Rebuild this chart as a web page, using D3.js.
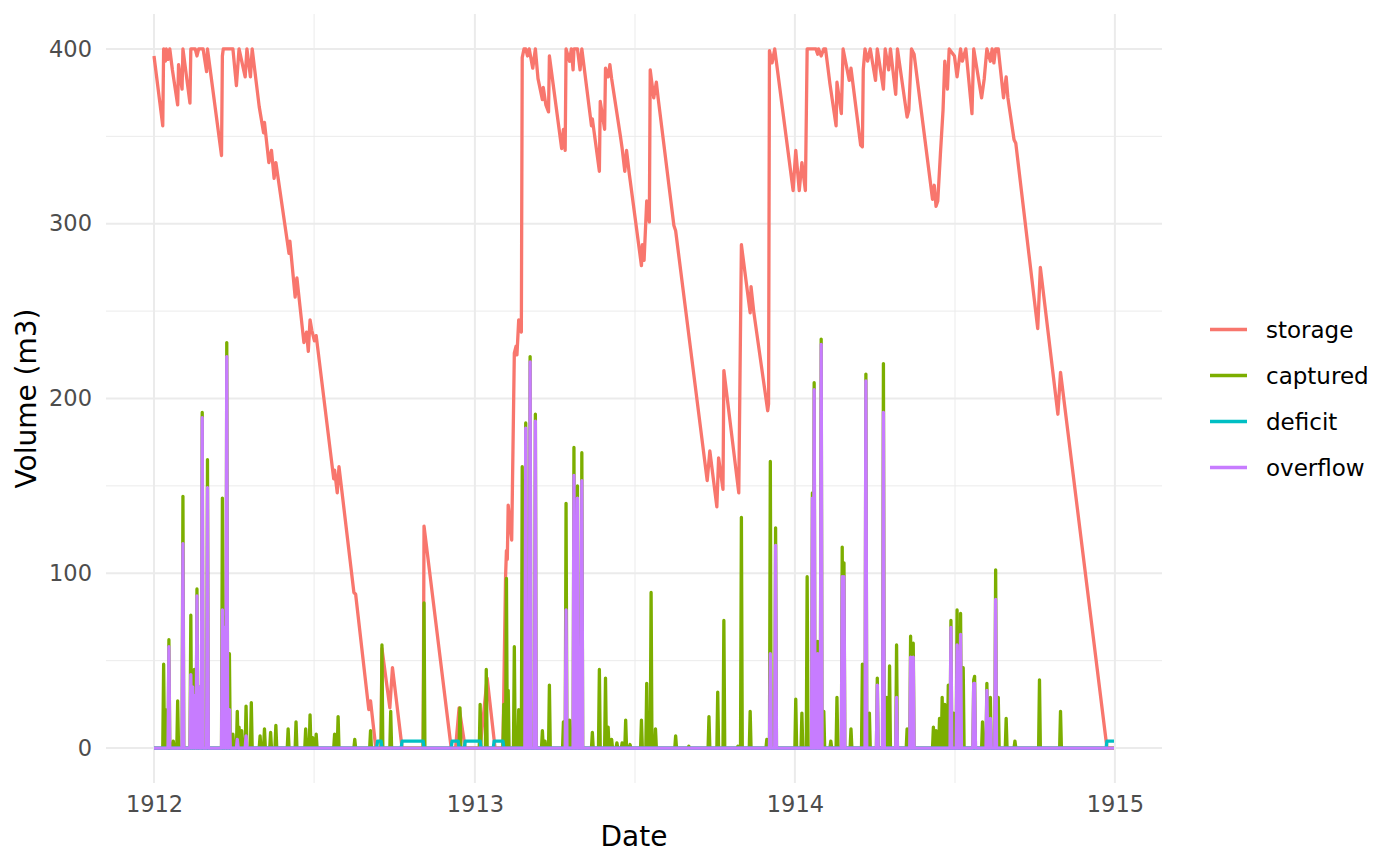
<!DOCTYPE html>
<html>
<head>
<meta charset="utf-8">
<script src="https://cdn.jsdelivr.net/npm/d3@7"></script>
<style>
  body { margin: 0; background: #fff; }
  svg { display: block; font-family: "DejaVu Sans", sans-serif; }
</style>
</head>
<body>
<svg id="chart" width="1400" height="866"></svg>
<script>
// days are counted from 1912-01-01
const storageDay = [0,10,11,13,14,16,18,21,27,28,32,33,41,42,47,49,51,56,60,61,77,78,79,90,94,97,104,106,110,112,
  120,125,126,131,134,137,139,152,154,155,161,163,171,174,176,178,180,183,185,205,206,209,211,228,230,245,247,253,259,260,
  269,272,283,307,308,339,344,348,355,372,380,389,398,401,402,403,404,408,411,413,414,416,419,420,422,424,426,428,432,435,
  438,443,444,447,450,451,465,467,469,470,474,476,478,479,483,486,488,499,500,508,509,514,515,518,520,522,532,534,537,539,
  542,556,557,559,562,565,566,570,573,575,593,595,631,634,642,644,649,650,667,670,680,681,684,700,701,702,705,708,729,732,
  736,739,743,745,755,757,758,761,764,766,771,778,779,784,786,793,795,806,808,809,811,814,817,823,825,832,834,838,840,846,
  848,859,861,864,867,888,890,892,894,897,900,902,905,907,913,916,920,922,926,933,935,944,947,950,954,956,958,960,963,969,
  972,974,981,983,1008,1011,1031,1034,1087,1095];
const storageValue = [396,356,400,393,400,394,400,388,368,391,377,400,369,400,400,396,400,400,387,400,339,396,400,400,379,400,384,400,384,400,
  367,352,358,335,342,326,335,290,283,290,258,269,232,238,227,245,239,233,236,154,159,146,161,89,88,22,27,0,0,57,
  23,46,0,0,127,0,0,23,0,0,40,0,0,98,113,108,139,119,226,230,225,245,238,395,400,400,396,400,389,400,
  383,371,378,368,364,396,343,354,342,400,393,400,388,400,400,388,400,356,360,330,370,354,389,384,391,383,350,343,330,342,
  329,276,288,279,313,301,388,372,381,372,299,296,153,170,138,166,148,216,146,288,249,264,250,193,197,399,392,400,319,342,
  319,335,319,400,400,397,400,396,400,400,380,356,381,363,400,382,389,345,344,388,400,393,400,382,400,377,400,388,400,374,
  400,361,365,400,397,314,322,310,313,340,365,393,377,400,396,384,400,393,400,363,400,372,383,400,393,400,392,400,400,372,
  384,372,348,346,240,275,191,215,0,0];

const spikeDay = [11,13,17,22,27,33,42,44,46,49,51,55,61,78,80,83,86,90,95,97,100,105,111,121,126,133,139,153,162,173,
  178,181,185,206,210,229,247,260,270,308,349,372,379,399,402,404,411,416,420,424,429,435,443,446,451,467,470,474,479,483,
  488,500,508,515,518,522,528,534,538,543,556,562,567,572,595,610,633,643,650,666,670,680,699,703,709,732,739,745,751,753,
  757,761,764,772,779,785,787,795,808,812,816,825,832,836,839,847,859,863,866,889,892,896,899,902,906,909,912,916,920,923,
  935,936,945,950,954,960,963,972,982,1010,1034];
const capturedValue = [48,22,62,4,27,144,76,40,45,91,35,192,165,143,75,232,54,8,21,12,10,24,26,7,11,9,13,11,15,11,
  19,6,8,8,18,5,10,59,21,83,23,25,45,25,97,33,58,22,161,186,224,191,10,4,36,15,140,16,172,150,
  169,9,45,40,12,5,3,3,16,2,16,37,89,11,7,1,18,32,73,1,132,21,5,164,126,28,20,98,146,209,
  61,234,21,4,29,115,106,11,48,214,20,40,220,29,47,59,11,64,60,12,10,17,29,25,36,73,20,79,77,46,
  39,41,15,37,29,102,29,17,4,39,21];
const overflowValue = [0,0,58,0,0,117,42,35,30,87,35,189,149,79,69,224,22,0,5,0,0,7,0,0,0,0,0,0,0,0,
  0,0,0,0,0,0,0,0,0,0,0,0,0,0,0,0,0,0,0,183,221,187,0,0,0,0,79,0,156,143,
  153,0,0,0,0,0,0,0,0,0,0,0,0,0,0,0,0,0,0,0,0,0,0,54,116,0,0,0,143,205,
  54,231,0,0,0,98,98,0,0,210,0,36,192,0,0,29,0,52,52,0,0,0,0,0,0,69,0,59,65,0,
  37,37,0,33,17,85,0,0,0,0,0];

const deficitDay = [0,254,255,259,260,282,283,307,308,339,340,347,348,354,355,372,373,387,388,398,399,1086,1087,1095];
const deficitValue = [0,0,4,4,0,0,4,4,0,0,4,4,0,0,4,4,0,0,4,4,0,0,4,4];

const yTicks = [0, 100, 200, 300, 400];
const yMinor = [50, 150, 250, 350];
const xTickYears = [1912, 1913, 1914, 1915];
const xMinorYears = [1912.5, 1913.5, 1914.5];
const seriesNames = ['storage', 'captured', 'deficit', 'overflow'];
const seriesColors = ['#F8766D', '#7CAE00', '#00BFC4', '#C77CFF'];

const svg = d3.select('#chart');
const panel = {left: 106, right: 1162, top: 14, bottom: 783};
const startDate = Date.UTC(1912, 0, 1);
const lastDay = 1095;
const toDate = d => new Date(startDate + d * 864e5);

// ggplot style 5% expansion
const span = lastDay * 864e5;
const x = d3.scaleTime()
  .domain([new Date(startDate - 0.05 * span), new Date(startDate + 1.05 * span)])
  .range([panel.left, panel.right]);
const y = d3.scaleLinear().domain([-20, 420]).range([panel.bottom, panel.top]);

const yearDate = yr => new Date(Date.UTC(Math.floor(yr), 0, 1) + (yr % 1) * 365.25 * 864e5);

// grille
const grid = svg.append('g');
grid.selectAll('.ymin').data(yMinor).enter().append('line')
  .attr('x1', panel.left).attr('x2', panel.right)
  .attr('y1', d => y(d)).attr('y2', d => y(d))
  .attr('stroke', '#EBEBEB').attr('stroke-width', 1);
grid.selectAll('.xmin').data(xMinorYears).enter().append('line')
  .attr('x1', d => x(yearDate(d))).attr('x2', d => x(yearDate(d)))
  .attr('y1', panel.top).attr('y2', panel.bottom)
  .attr('stroke', '#EBEBEB').attr('stroke-width', 1);
grid.selectAll('.ymaj').data(yTicks).enter().append('line')
  .attr('x1', panel.left).attr('x2', panel.right)
  .attr('y1', d => y(d)).attr('y2', d => y(d))
  .attr('stroke', '#EBEBEB').attr('stroke-width', 2);
grid.selectAll('.xmaj').data(xTickYears).enter().append('line')
  .attr('x1', d => x(yearDate(d))).attr('x2', d => x(yearDate(d)))
  .attr('y1', panel.top).attr('y2', panel.bottom)
  .attr('stroke', '#EBEBEB').attr('stroke-width', 2);

// series
function dailyFrom(days, values) {
  const out = [];
  for (let d = 0; d <= lastDay; d++) out.push([d, 0]);
  days.forEach((d, i) => { out[d][1] = values[i]; });
  return out;
}
const series = {
  storage: storageDay.map((d, i) => [d, storageValue[i]]),
  captured: dailyFrom(spikeDay, capturedValue),
  deficit: deficitDay.map((d, i) => [d, deficitValue[i]]),
  overflow: dailyFrom(spikeDay, overflowValue)
};

const line = d3.line().x(d => x(toDate(d[0]))).y(d => y(d[1]));
const lines = svg.append('g');
seriesNames.forEach((name, i) => {
  lines.append('path')
    .datum(series[name])
    .attr('d', line)
    .attr('fill', 'none')
    .attr('stroke', seriesColors[i])
    .attr('stroke-width', 3.3)
    .attr('stroke-linejoin', 'round');
});

// axes
const xAxis = d3.axisBottom(x)
  .tickValues(xTickYears.map(yearDate))
  .tickFormat(d3.utcFormat('%Y'))
  .tickSize(0).tickPadding(13);
svg.append('g')
  .attr('transform', `translate(0,${panel.bottom})`)
  .call(xAxis)
  .call(g => g.select('.domain').remove())
  .selectAll('text')
  .attr('fill', '#4D4D4D').style('font-size', '22.5px').style('font-family', '"DejaVu Sans"');

const yAxis = d3.axisLeft(y).tickValues(yTicks).tickSize(0).tickPadding(14);
svg.append('g')
  .attr('transform', `translate(${panel.left},0)`)
  .call(yAxis)
  .call(g => g.select('.domain').remove())
  .selectAll('text')
  .attr('fill', '#4D4D4D').style('font-size', '22.5px').style('font-family', '"DejaVu Sans"');

svg.append('text')
  .attr('x', (panel.left + panel.right) / 2).attr('y', 846)
  .attr('text-anchor', 'middle').style('font-size', '28px')
  .text('Date');
svg.append('text')
  .attr('transform', `translate(36,${(panel.top + panel.bottom) / 2}) rotate(-90)`)
  .attr('text-anchor', 'middle').style('font-size', '28px')
  .text('Volume (m3)');

// legende
const legend = svg.append('g');
seriesNames.forEach((name, i) => {
  const ly = 329.5 + i * 46;
  legend.append('line')
    .attr('x1', 1210).attr('x2', 1247).attr('y1', ly).attr('y2', ly)
    .attr('stroke', seriesColors[i]).attr('stroke-width', 3.3);
  legend.append('text')
    .attr('x', 1266).attr('y', ly).attr('dy', '0.35em')
    .style('font-size', '23px')
    .text(name);
});
</script>
</body>
</html>
